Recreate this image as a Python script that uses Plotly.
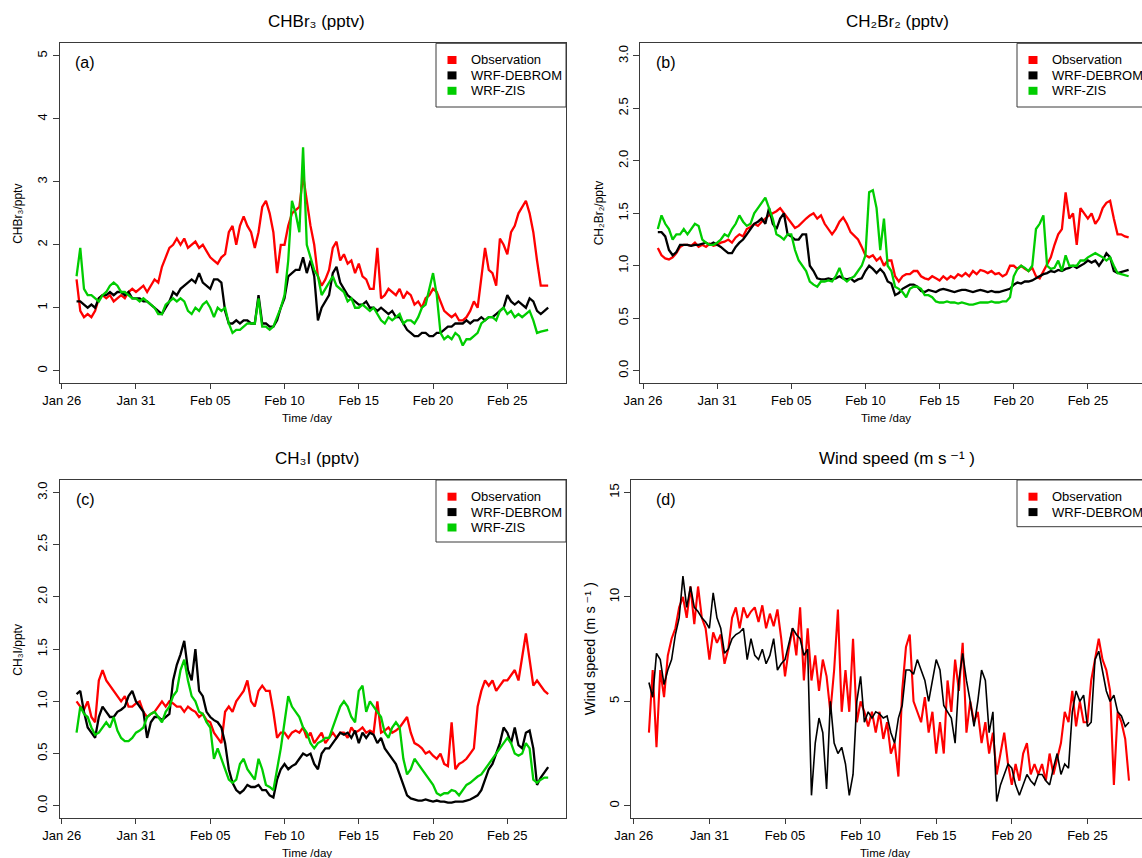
import pandas as pd
import plotly.graph_objects as go

# ---------------- data (6-hourly samples starting 27 Jan 00:00) ----------------
START = "2013-01-27 00:00"
FREQ = "6h"
BASE = pd.Timestamp("2013-01-26 00:00")
TICK_DATES = ["2013-01-26", "2013-01-31", "2013-02-05", "2013-02-10",
              "2013-02-15", "2013-02-20", "2013-02-25"]

chbr3_obs = [1.45, 0.95, 0.85, 0.9, 0.85, 0.95, 1.15, 1.2, 1.15, 1.2, 1.1, 1.15,
             1.2, 1.15, 1.25, 1.3, 1.25, 1.3, 1.35, 1.25, 1.35, 1.45, 1.4, 1.65,
             1.8, 1.95, 2.0, 2.1, 2.0, 2.1, 1.95, 2.0, 2.05, 1.95, 2.0, 1.9,
             1.8, 1.75, 1.7, 1.8, 1.85, 2.2, 2.3, 2.0, 2.3, 2.45, 2.3, 2.2,
             1.95, 2.2, 2.6, 2.7, 2.5, 2.2, 1.55, 2.0, 2.0, 2.3, 2.5, 2.55,
             2.6, 3.1, 2.7, 2.3, 2.0, 1.5, 1.35, 1.45, 1.6, 1.95, 2.05, 1.75,
             1.85, 1.7, 1.75, 1.55, 1.7, 1.5, 1.45, 1.3, 1.3, 1.95, 1.15, 1.2,
             1.3, 1.25, 1.2, 1.3, 1.15, 1.25, 1.2, 1.05, 1.1, 1.0, 1.15, 1.2,
             1.3, 1.25, 1.1, 0.95, 0.9, 0.85, 0.9, 0.8, 0.8, 0.85, 0.95, 1.1,
             1.0, 1.5, 1.95, 1.6, 1.55, 1.35, 2.1, 2.0, 1.85, 2.2, 2.3, 2.5,
             2.6, 2.7, 2.5, 2.2, 1.75, 1.35, 1.35, 1.35]
chbr3_debrom = [1.1, 1.1, 1.05, 1.0, 1.05, 1.0, 1.15, 1.2, 1.2, 1.25, 1.2, 1.25,
                1.25, 1.2, 1.25, 1.15, 1.15, 1.15, 1.1, 1.1, 1.05, 1.0, 0.95, 0.9,
                1.0, 1.1, 1.25, 1.2, 1.3, 1.35, 1.4, 1.45, 1.4, 1.55, 1.4, 1.35,
                1.3, 1.45, 1.45, 1.4, 0.95, 0.75, 0.75, 0.8, 0.75, 0.8, 0.8, 0.75,
                0.75, 1.2, 0.75, 0.75, 0.7, 0.7, 0.8, 1.0, 1.15, 1.5, 1.55, 1.6,
                1.6, 1.8, 1.55, 1.75, 1.5, 0.8, 1.0, 1.1, 1.2, 1.55, 1.65, 1.4,
                1.3, 1.2, 1.15, 1.1, 1.05, 1.05, 1.1, 1.0, 1.0, 0.95, 1.0, 0.95,
                0.9, 0.95, 0.85, 0.85, 0.75, 0.65, 0.6, 0.55, 0.55, 0.6, 0.6, 0.55,
                0.55, 0.6, 0.6, 0.65, 0.7, 0.7, 0.75, 0.75, 0.75, 0.8, 0.75, 0.8,
                0.8, 0.85, 0.8, 0.85, 0.85, 0.9, 0.95, 1.0, 1.2, 1.1, 1.05, 1.1,
                1.05, 1.0, 1.15, 1.1, 0.95, 0.9, 0.95, 1.0]
chbr3_zis = [1.5, 1.95, 1.3, 1.2, 1.2, 1.15, 1.1, 1.2, 1.25, 1.35, 1.4, 1.35,
             1.25, 1.25, 1.2, 1.15, 1.15, 1.1, 1.15, 1.1, 1.05, 1.0, 0.9, 0.9,
             1.05, 1.1, 1.15, 1.1, 1.15, 1.1, 0.95, 0.9, 1.0, 0.95, 1.05, 1.1,
             1.0, 0.85, 1.0, 0.95, 1.0, 0.75, 0.6, 0.65, 0.65, 0.7, 0.75, 0.75,
             0.75, 1.15, 0.7, 0.7, 0.65, 0.7, 0.85, 1.0, 1.2, 1.75, 2.7, 2.5,
             2.2, 3.55, 2.0, 1.8, 1.6, 1.5, 1.2, 1.3, 1.4, 1.5, 1.35, 1.3,
             1.25, 1.1, 1.15, 1.0, 1.0, 1.05, 1.0, 0.95, 1.0, 0.9, 0.8, 0.75,
             0.85, 0.8, 0.85, 0.9, 0.75, 0.8, 0.8, 0.75, 0.85, 1.0, 1.05, 1.3,
             1.55, 1.2, 0.6, 0.5, 0.55, 0.5, 0.6, 0.55, 0.4, 0.5, 0.5, 0.55,
             0.6, 0.75, 0.8, 0.85, 0.85, 0.8, 0.95, 1.0, 0.9, 0.95, 0.85, 0.9,
             0.85, 0.9, 0.95, 0.8, 0.6, 0.62, 0.63, 0.65]

ch2br2_obs = [1.17, 1.1, 1.07, 1.06, 1.08, 1.12, 1.18, 1.2, 1.2, 1.19, 1.22, 1.18,
              1.2, 1.18, 1.21, 1.19, 1.2, 1.22, 1.23, 1.25, 1.22, 1.27, 1.3, 1.28,
              1.35, 1.37, 1.4, 1.38, 1.42, 1.45, 1.48, 1.5, 1.52, 1.55, 1.5, 1.45,
              1.4, 1.36, 1.38, 1.42, 1.45, 1.48, 1.5, 1.45, 1.48, 1.4, 1.35, 1.3,
              1.35, 1.42, 1.46, 1.4, 1.32, 1.28, 1.25, 1.18, 1.1, 1.08, 1.1, 1.05,
              1.08, 1.0, 1.05, 1.05, 0.9, 0.85, 0.9, 0.92, 0.92, 0.95, 0.95, 0.9,
              0.88, 0.87, 0.9, 0.88, 0.86, 0.9, 0.87, 0.9, 0.88, 0.92, 0.9, 0.93,
              0.9, 0.95, 0.92, 0.96, 0.95, 0.93, 0.95, 0.92, 0.93, 0.9, 0.92, 1.0,
              1.0, 0.97, 1.0, 0.97, 0.95, 0.98, 0.9, 0.88, 0.95, 1.02, 1.08, 1.2,
              1.3, 1.35, 1.7, 1.45, 1.5, 1.2, 1.55, 1.5, 1.45, 1.5, 1.4, 1.45,
              1.55, 1.6, 1.62, 1.45, 1.3, 1.3, 1.28, 1.27]
ch2br2_debrom = [1.32, 1.32, 1.28, 1.15, 1.1, 1.13, 1.2, 1.2, 1.2, 1.19, 1.2, 1.2,
                 1.21, 1.22, 1.2, 1.22, 1.2, 1.18, 1.15, 1.12, 1.12, 1.18, 1.22, 1.25,
                 1.3, 1.35, 1.4, 1.42, 1.45, 1.4, 1.55, 1.4, 1.35, 1.45, 1.5, 1.3,
                 1.28, 1.25, 1.25, 1.3, 1.3, 1.0, 0.95, 0.88, 0.87, 0.87, 0.88, 0.87,
                 0.88, 0.9, 0.88, 0.87, 0.88, 0.85, 0.87, 0.88, 0.95, 1.0, 0.97, 0.93,
                 0.97, 0.93, 0.85, 0.83, 0.72, 0.74, 0.78, 0.8, 0.82, 0.82, 0.8, 0.76,
                 0.75, 0.77, 0.76, 0.75, 0.77, 0.78, 0.77, 0.76, 0.75, 0.76, 0.77, 0.77,
                 0.76, 0.75, 0.76, 0.77, 0.76, 0.75, 0.76, 0.75, 0.75, 0.76, 0.77, 0.78,
                 0.82, 0.84, 0.83, 0.85, 0.85, 0.86, 0.88, 0.9, 0.92, 0.93, 0.95, 0.94,
                 0.96, 0.95, 0.97, 0.98, 1.0, 0.98, 1.0, 1.02, 1.05, 1.03, 1.05, 1.0,
                 1.05, 1.12, 1.08, 0.95, 0.93, 0.94, 0.95, 0.96]
ch2br2_zis = [1.35, 1.48, 1.4, 1.35, 1.25, 1.3, 1.3, 1.35, 1.3, 1.35, 1.4, 1.38,
              1.25, 1.22, 1.2, 1.2, 1.22, 1.25, 1.3, 1.28, 1.35, 1.4, 1.48, 1.42,
              1.38, 1.4, 1.5, 1.55, 1.6, 1.65, 1.55, 1.45, 1.3, 1.28, 1.25, 1.3,
              1.3, 1.15, 1.05, 1.0, 0.95, 0.85, 0.82, 0.8, 0.85, 0.85, 0.86, 0.85,
              0.9, 0.98, 0.88, 0.85, 0.88, 0.9, 0.95, 1.0, 1.1, 1.7, 1.72, 1.55,
              1.15, 1.45, 1.0, 0.95, 0.8, 0.78, 0.75, 0.7, 0.78, 0.8, 0.8, 0.78,
              0.72, 0.72, 0.7, 0.66, 0.65, 0.65, 0.66, 0.65, 0.65, 0.64, 0.65, 0.64,
              0.63, 0.63, 0.64, 0.65, 0.65, 0.65, 0.66, 0.65, 0.65, 0.66, 0.66, 0.7,
              0.9, 0.97, 1.0, 0.98, 0.95, 1.0, 1.35, 1.4, 1.48, 1.0, 0.97, 0.98,
              1.05, 0.95, 1.1, 1.0, 1.0, 1.0, 1.05, 1.05, 1.08, 1.1, 1.12, 1.1,
              1.08, 1.05, 1.08, 1.0, 0.93, 0.92, 0.91, 0.9]

ch3i_obs = [1.0, 0.95, 0.92, 1.0, 0.85, 0.8, 1.2, 1.3, 1.2, 1.15, 1.1, 1.05,
            1.0, 1.05, 0.95, 0.95, 0.98, 1.0, 0.9, 0.85, 0.88, 0.9, 0.95, 1.0,
            0.95, 1.0, 0.98, 0.95, 0.95, 0.9, 0.95, 0.92, 0.9, 0.85, 0.88, 0.82,
            0.8, 0.7, 0.65, 0.6, 0.9, 0.95, 0.9, 1.0, 1.05, 1.1, 1.2, 1.0,
            0.95, 1.1, 1.15, 1.1, 1.1, 0.9, 0.65, 0.7, 0.7, 0.65, 0.7, 0.72,
            0.7, 0.75, 0.65, 0.7, 0.6, 0.65, 0.7, 0.6, 0.65, 0.7, 0.65, 0.7,
            0.7, 0.65, 0.75, 0.7, 0.72, 0.75, 0.7, 0.72, 0.7, 1.0, 0.7, 0.72,
            0.75, 0.7, 0.72, 0.75, 0.8, 0.85, 0.7, 0.6, 0.58, 0.55, 0.5, 0.52,
            0.48, 0.45, 0.5, 0.4, 0.38, 0.8, 0.35, 0.4, 0.42, 0.45, 0.5, 0.55,
            0.95, 1.1, 1.2, 1.15, 1.2, 1.1, 1.15, 1.2, 1.2, 1.25, 1.3, 1.2,
            1.45, 1.65, 1.4, 1.15, 1.2, 1.15, 1.1, 1.07]
ch3i_debrom = [1.07, 1.1, 0.9, 0.75, 0.7, 0.65, 0.85, 0.95, 0.9, 0.85, 0.85, 0.9,
               0.92, 0.95, 1.05, 1.1, 1.0, 0.95, 0.9, 0.65, 0.8, 0.85, 0.85, 0.82,
               0.85, 0.88, 1.2, 1.35, 1.45, 1.58, 1.3, 1.2, 1.5, 1.1, 1.05, 0.9,
               0.85, 0.82, 0.8, 0.75, 0.6, 0.35, 0.22, 0.15, 0.12, 0.15, 0.2, 0.18,
               0.18, 0.2, 0.15, 0.15, 0.1, 0.08, 0.25, 0.35, 0.4, 0.35, 0.38, 0.4,
               0.45, 0.5, 0.48, 0.5, 0.4, 0.35, 0.5, 0.55, 0.55, 0.6, 0.65, 0.7,
               0.68, 0.7, 0.65, 0.72, 0.6, 0.7, 0.65, 0.7, 0.68, 0.6, 0.65, 0.55,
               0.5, 0.45, 0.4, 0.3, 0.2, 0.1, 0.07, 0.06, 0.05, 0.05, 0.06, 0.05,
               0.04, 0.05, 0.04, 0.04, 0.03, 0.03, 0.04, 0.04, 0.04, 0.05, 0.06, 0.08,
               0.1, 0.15, 0.25, 0.35, 0.4, 0.5, 0.6, 0.75, 0.7, 0.6, 0.75, 0.58,
               0.55, 0.7, 0.72, 0.55, 0.2, 0.27, 0.32, 0.37]
ch3i_zis = [0.7, 0.95, 0.88, 0.85, 0.75, 0.68, 0.7, 0.75, 0.8, 0.75, 0.85, 0.72,
            0.65, 0.62, 0.62, 0.65, 0.7, 0.72, 0.75, 0.85, 0.88, 0.9, 0.85, 0.8,
            0.9, 0.95, 1.05, 1.1, 1.3, 1.4, 1.2, 1.05, 1.0, 0.9, 0.88, 0.8,
            0.75, 0.45, 0.55, 0.45, 0.35, 0.25, 0.22, 0.25, 0.4, 0.45, 0.35, 0.3,
            0.25, 0.45, 0.35, 0.2, 0.18, 0.15, 0.35, 0.55, 0.8, 1.05, 0.95, 0.9,
            0.85, 0.75, 0.7, 0.6, 0.55, 0.6, 0.62, 0.65, 0.65, 0.75, 0.85, 0.95,
            1.0, 0.95, 0.85, 0.8, 1.1, 1.15, 0.9, 1.0, 0.95, 0.9, 0.85, 0.7,
            0.65, 0.75, 0.8, 0.75, 0.45, 0.3, 0.35, 0.45, 0.4, 0.35, 0.3, 0.25,
            0.2, 0.12, 0.1, 0.12, 0.12, 0.15, 0.14, 0.1, 0.15, 0.2, 0.22, 0.25,
            0.28, 0.3, 0.35, 0.4, 0.45, 0.5, 0.55, 0.6, 0.65, 0.6, 0.5, 0.48,
            0.5, 0.6, 0.55, 0.25, 0.22, 0.25, 0.27, 0.27]

wind_obs = [3.5, 6.5, 2.8, 6.5, 5.2, 7.2, 8.0, 8.5, 9.5, 10.0, 9.0, 10.5,
            8.7, 10.5, 9.0, 8.5, 7.0, 8.3, 7.8, 8.2, 6.8, 7.5, 9.0, 9.5,
            8.5, 9.5, 9.0, 9.3, 9.5, 8.8, 9.6, 8.5, 9.2, 8.6, 9.4, 8.0,
            6.2, 7.5, 8.5, 7.2, 9.5, 6.0, 8.5, 6.0, 7.2, 5.5, 7.0, 6.2,
            4.5, 6.5, 9.4, 4.5, 6.5, 4.5, 8.0, 4.0, 5.0, 4.5, 3.8, 4.5,
            3.5, 4.5, 3.2, 4.0, 2.5, 3.0, 1.4, 5.5, 7.6, 8.2, 5.0, 4.5,
            4.0, 5.2, 3.5, 4.5, 2.5, 4.0, 2.5, 6.0, 4.5, 7.0, 5.5, 7.8,
            3.5, 5.0, 4.0, 4.5, 3.0, 4.0, 2.5, 3.5, 1.5, 2.5, 3.5, 2.0,
            1.0, 2.0, 1.2, 2.5, 3.0, 1.5, 2.0, 1.5, 2.0, 1.2, 2.5, 1.5,
            2.2, 3.0, 4.5, 4.0, 5.5, 3.8, 5.0, 4.0, 4.0, 6.0, 7.0, 8.0,
            7.0, 6.5, 5.5, 1.0, 4.5, 4.0, 3.2, 1.2]
wind_debrom = [5.9, 5.2, 7.3, 7.0, 5.8, 6.5, 7.0, 8.2, 9.0, 11.0, 9.5, 10.5,
               9.5, 9.3, 9.0, 8.8, 8.5, 10.2, 9.0, 8.5, 7.3, 7.5, 8.0, 8.2,
               8.3, 8.5, 7.0, 8.0, 7.2, 7.0, 7.5, 6.8, 7.2, 8.0, 6.5, 6.8,
               7.0, 7.8, 8.5, 8.2, 8.0, 7.2, 7.5, 0.5, 3.0, 4.2, 3.5, 0.8,
               5.0, 3.0, 2.5, 2.8, 2.0, 0.5, 1.5, 5.0, 6.2, 4.0, 4.5, 4.2,
               4.5, 4.4, 4.2, 4.3, 3.5, 3.0, 4.2, 4.8, 6.5, 6.5, 6.3, 7.0,
               6.5, 6.0, 5.0, 6.0, 7.0, 6.5, 4.8, 4.5, 4.2, 3.0, 6.0, 7.3,
               6.0, 5.0, 3.8, 5.0, 6.5, 6.0, 3.5, 4.5, 0.2, 1.0, 1.5, 2.0,
               1.8, 1.0, 0.5, 1.0, 1.5, 1.2, 1.0, 1.5, 1.5, 1.2, 1.0, 1.8,
               2.5, 1.5, 2.0, 1.8, 4.5, 5.5, 5.0, 5.3, 3.8, 4.0, 7.0, 7.4,
               6.5, 5.5, 5.0, 5.3, 4.5, 4.3, 3.8, 4.0]

SERIES_NAMES = ["Observation", "WRF-DEBROM", "WRF-ZIS"]
COLORS = {"Observation": "#FF0000", "WRF-DEBROM": "#000000", "WRF-ZIS": "#00CD00"}

# ---------------- layout helpers ----------------
W, H = 1142, 858
FONT = "Liberation Sans, Arial, Helvetica, DejaVu Sans, sans-serif"


def px(x):
    return x / W


def py(y):
    return 1 - y / H


def day(d):
    return BASE + pd.Timedelta(days=d)


panels = [
    dict(key="a", left=59.5, right=566, top=43.3, bottom=383.3, d0=-0.148, d1=33.95,
         yr=[-0.2, 5.2], yt=[0, 1, 2, 3, 4, 5], yfmt="d", mirror=True,
         series=[chbr3_obs, chbr3_debrom, chbr3_zis], widths=[2.3, 2.3, 2.3],
         title="CHBr\u2083 (pptv)", ytitle="CHBr\u2083/pptv", ytfs=12,
         tx=316.7, ylx=18.5, xtx=307, leg_l=436, leg_b=107, label_x=85),
    dict(key="b", left=640.4, right=1142, top=43.3, bottom=383.3, d0=-0.175, d1=33.65,
         yr=[-0.12, 3.12], yt=[0, 0.5, 1, 1.5, 2, 2.5, 3], yfmt=".1f", mirror=False,
         series=[ch2br2_obs, ch2br2_debrom, ch2br2_zis], widths=[2.3, 2.3, 2.3],
         title="CH\u2082Br\u2082 (pptv)", ytitle="CH\u2082Br\u2082/pptv",
         ytfs=12, tx=897.7, ylx=599, xtx=886, leg_l=1017, leg_b=107, label_x=665.6),
    dict(key="c", left=59.5, right=566, top=480, bottom=818.3, d0=-0.148, d1=33.95,
         yr=[-0.12, 3.12], yt=[0, 0.5, 1, 1.5, 2, 2.5, 3], yfmt=".1f", mirror=True,
         series=[ch3i_obs, ch3i_debrom, ch3i_zis], widths=[2.3, 2.3, 2.3],
         title="CH\u2083I (pptv)", ytitle="CH\u2083I/pptv", ytfs=12,
         tx=316.7, ylx=18.5, xtx=307, leg_l=436, leg_b=542, label_x=85),
    dict(key="d", left=631.3, right=1142, top=480, bottom=818.3, d0=-0.165, d1=33.61,
         yr=[-0.6, 15.6], yt=[0, 5, 10, 15], yfmt="d", mirror=False,
         series=[wind_obs, wind_debrom], widths=[2.1, 1.6],
         title="Wind speed (m s\u2009\u207b\u00b9 )", ytitle="Wind speed (m s\u2009\u207b\u00b9 )",
         ytfs=14.5, tx=897.4, ylx=590, xtx=885, leg_l=1017, leg_b=526.7, label_x=665.6),
]

times = pd.date_range(START, periods=len(chbr3_obs), freq=FREQ)

fig = go.Figure()
layout = dict(
    width=W, height=H, margin=dict(l=0, r=0, t=0, b=0, pad=0, autoexpand=False),
    paper_bgcolor="white", plot_bgcolor="white", showlegend=False,
    font=dict(family=FONT, color="black", size=13),
)
annotations = []
shapes = []
LINE = "#3a3a3a"

for i, p in enumerate(panels):
    n = "" if i == 0 else str(i + 1)
    xa, ya = "x" + n, "y" + n
    for name, vals, w in zip(SERIES_NAMES, p["series"], p["widths"]):
        fig.add_trace(go.Scatter(x=times[:len(vals)], y=vals, mode="lines", name=name,
                                 line=dict(color=COLORS[name], width=w),
                                 xaxis=xa, yaxis=ya, showlegend=False))
    layout["xaxis" + n] = dict(
        domain=[px(p["left"]), min(1.0, px(p["right"]))], anchor=ya,
        range=[day(p["d0"]), day(p["d1"])], type="date", automargin=False,
        tickvals=TICK_DATES, tickformat="%b %d",
        ticks="outside", ticklen=5, tickcolor=LINE, tickwidth=1,
        showline=True, linecolor=LINE, linewidth=1, mirror=True,
        showgrid=False, zeroline=False, tickfont=dict(size=13, color="black"))
    layout["yaxis" + n] = dict(
        domain=[py(p["bottom"]), py(p["top"])], anchor=xa, automargin=False,
        range=p["yr"], tickvals=p["yt"], tickformat=p["yfmt"], tickangle=-90,
        ticks="outside", ticklen=6, tickcolor=LINE, tickwidth=1,
        showline=True, linecolor=LINE, linewidth=1, mirror=p["mirror"],
        showgrid=False, zeroline=False, tickfont=dict(size=13, color="black"))

    mid_y = (p["top"] + p["bottom"]) / 2
    annotations.append(dict(text=p["title"], x=px(p["tx"]), y=py(p["top"] - 21.6),
                            xref="paper", yref="paper", showarrow=False,
                            xanchor="center", yanchor="middle", font=dict(size=17)))
    annotations.append(dict(text=p["ytitle"], x=px(p["ylx"]), y=py(mid_y),
                            xref="paper", yref="paper", showarrow=False, textangle=-90,
                            xanchor="center", yanchor="middle", font=dict(size=p["ytfs"])))
    annotations.append(dict(text="Time /day", x=px(p["xtx"]), y=py(p["bottom"] + 34.4),
                            xref="paper", yref="paper", showarrow=False,
                            xanchor="center", yanchor="middle", font=dict(size=11.5)))
    annotations.append(dict(text="(" + p["key"] + ")", x=px(p["label_x"]), y=py(p["top"] + 19.4),
                            xref="paper", yref="paper", showarrow=False,
                            xanchor="center", yanchor="middle", font=dict(size=16)))
    leg_r = p["leg_l"] + 143 if p["mirror"] is False else p["right"]
    shapes.append(dict(type="rect", xref="paper", yref="paper",
                       x0=px(p["leg_l"]), x1=px(leg_r), y0=py(p["top"]), y1=py(p["leg_b"]),
                       line=dict(color=LINE, width=1), fillcolor="white", layer="above"))
    for k, name in enumerate(SERIES_NAMES[:len(p["series"])]):
        ry = p["top"] + 16.7 + 15.4 * k
        cx = p["leg_l"] + 16
        shapes.append(dict(type="rect", xref="paper", yref="paper",
                           x0=px(cx - 4.5), x1=px(cx + 4.5), y0=py(ry + 4), y1=py(ry - 4),
                           line=dict(width=0), fillcolor=COLORS[name], layer="above"))
        annotations.append(dict(text=name, x=px(p["leg_l"] + 33), y=py(ry),
                                xref="paper", yref="paper", showarrow=False,
                                xanchor="left", yanchor="middle", font=dict(size=13)))

layout["annotations"] = annotations
layout["shapes"] = shapes
fig.update_layout(**layout)
fig.write_html("out.html",
               config={"displayModeBar": False, "staticPlot": True},
               post_script="document.documentElement.style.margin='0';"
                           "document.body.style.margin='0';"
                           "document.body.style.overflow='hidden';")
